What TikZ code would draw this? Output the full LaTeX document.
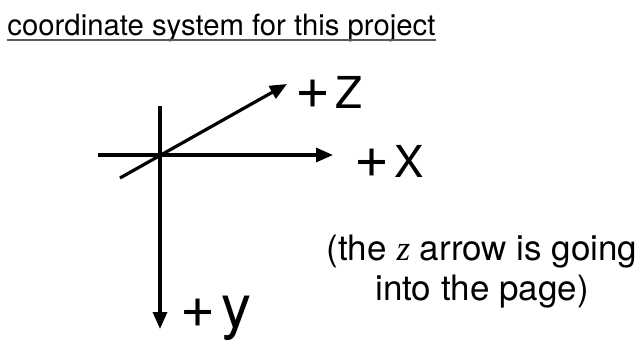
\documentclass[tikz,border=0pt]{standalone}
\usepackage{fontspec}
\setmainfont{TeX Gyre Heros}
\newfontfamily\zfont{Liberation Serif}
\usetikzlibrary{arrows.meta}
\definecolor{lightline}{RGB}{90,90,90}
\newcommand\axplus{{\fontsize{60}{64}\selectfont +}}
\tikzset{
  % plain axis line
  axis/.style={line width=3.2pt},
  % axis with filled head
  axisarrow/.style={line width=3.2pt,-{Triangle[length=17pt,width=14pt]}},
  % axis labels
  axlabel/.style={inner sep=0pt,anchor=base west,font=\fontsize{44}{48}\selectfont},
  % heading and its underline
  heading/.style={inner sep=0pt,anchor=base west,font=\fontsize{29.3}{34}\selectfont},
  underline/.style={draw=lightline,line width=2pt},
  % remark text
  remark/.style={inner sep=0pt,anchor=base,font=\fontsize{35}{40}\selectfont}
}
\begin{document}
\begin{tikzpicture}[x=1pt,y=-1pt]
\useasboundingbox (0,0) rectangle (643,340);
  \node[heading] (title) at (7.3,35) {coordinate system for this project};
  \draw[underline] ([yshift=-4.5pt]title.base west) -- ([yshift=-4.5pt]title.base east);
  %%%%%%%%%%%%%%%%%%%%%%%%%%%%%%%%%%%%%%%
  \coordinate (origin) at (160,155);
  \coordinate (ytop) at (160,106);
  \coordinate (xleft) at (98,155);
  \coordinate (xtip) at (333,155);
  \coordinate (ztail) at (120,178);
  \coordinate (ztip) at (287,84);
  \coordinate (ytip) at (160,329);
  %%%%%%%%%%%%%%%%%%%%%%%%%%%%%%%%%%%%%%%
  \draw[axis] (xleft) -- (origin);
  \draw[axisarrow] (origin) -- (xtip);
  \draw[axis] (ytop) -- (origin);
  \draw[axisarrow] (origin) -- (ytip);
  \draw[axisarrow] (ztail) -- (ztip);
  %%%%%%%%%%%%%%%%%%%%%%%%%%%%%%%%%%%%%%%
  \node[axlabel] (zlabel) at (295.7,108) {\axplus\kern5pt Z};
  \node[axlabel] (xlabel) at (354.7,177) {\axplus\kern4.5pt X};
  \node[axlabel] (ylabel) at (180.7,327) {\axplus\kern5.5pt{\fontsize{60}{64}\selectfont y}};
  %%%%%%%%%%%%%%%%%%%%%%%%%%%%%%%%%%%%%%%
  \node[remark] (remarkA) at (482,260) {(the {\zfont\itshape z} arrow is going};
  \node[remark] (remarkB) at (482,300) {into the page)};
\end{tikzpicture}
\end{document}
